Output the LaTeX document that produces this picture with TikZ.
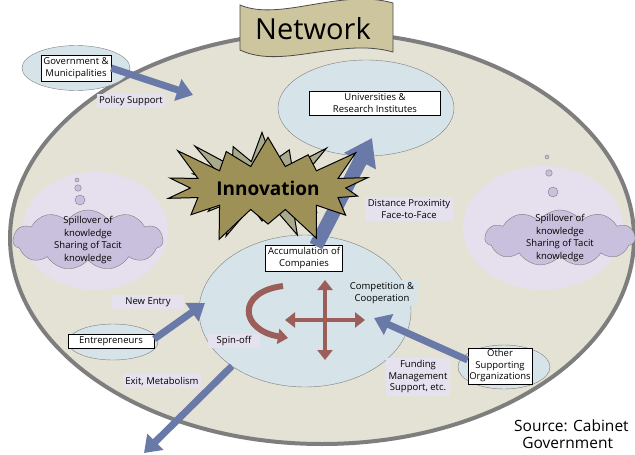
\documentclass[tikz,border=0pt]{standalone}
\usepackage{fontspec}
\setmainfont{Open Sans}
\usetikzlibrary{arrows.meta,shapes.symbols,shapes.geometric}
\definecolor{netfill}{HTML}{E4E2D5}
\definecolor{netline}{HTML}{7E7E7E}
\definecolor{paleblue}{HTML}{D6E4E9}
\definecolor{bubble}{HTML}{E5DFEE}
\definecolor{cloudfill}{HTML}{C9C0DD}
\definecolor{tagfill}{HTML}{E6E1EE}
\definecolor{arrowblue}{HTML}{6A7AA8}
\definecolor{olive}{HTML}{9D9158}
\definecolor{oliveshade}{HTML}{A9A98C}
\definecolor{rust}{HTML}{9C5E58}
\definecolor{flag}{HTML}{CCC59E}

\tikzset{
  tag/.style={fill=tagfill, font=\fontsize{9.5}{11.5}\selectfont, align=center, inner sep=2.5pt},
  whitebox/.style={draw=black, fill=white, font=\fontsize{9.5}{11.5}\selectfont, align=center, inner sep=2.5pt},
  blob/.style={ellipse, draw=netline, fill=paleblue},
  bigarrow/.style={draw=arrowblue, line width=7pt, -{Triangle[length=16pt,width=22pt]}},
  rustarrow/.style={draw=rust, line width=4.5pt, -{Triangle[length=10pt,width=15pt]}},
  puff/.style={cloud, cloud puffs=11, cloud puff arc=110, draw=netline, fill=cloudfill, inner sep=0pt},
  dot/.style={circle, draw=netline, fill=cloudfill, inner sep=0pt}
}

\begin{document}
\begin{tikzpicture}[x=1pt,y=-1pt]
\useasboundingbox (0,0) rectangle (635,455);
\clip (0,0) rectangle (635,455);

% network ring
\node[ellipse, draw=netline, line width=4pt, fill=netfill, minimum width=624pt, minimum height=412pt] (net) at (322,238) {};

% banner
\draw[fill=flag, draw=black!70, line width=0.8pt] (240,5) .. controls (280,22) and (340,-12) .. (393,3)
  -- (393,52) .. controls (340,37) and (282,70) .. (240,50) -- cycle;
\node[font=\fontsize{29}{32}\selectfont] (title) at (313,29) {Network};

% thought bubbles
\node[ellipse, fill=bubble, minimum width=146pt, minimum height=118pt] (lbub) at (95,231) {};
\node[puff, minimum width=150pt, minimum height=60pt] (lcloud) at (88,240) {};
\node[font=\fontsize{9.5}{12.5}\selectfont, align=center] (lcloudtext) at (lcloud.center) {Spillover of\\knowledge\\Sharing of Tacit\\knowledge};
\node[dot, minimum size=4pt] (ld1) at (77,180) {};
\node[dot, minimum size=6.5pt] (ld2) at (78,188) {};
\node[dot, minimum size=10pt] (ld3) at (80,200) {};

\node[ellipse, fill=bubble, minimum width=160pt, minimum height=124pt] (rbub) at (543,228) {};
\node[puff, minimum width=150pt, minimum height=56pt] (rcloud) at (560,238) {};
\node[font=\fontsize{9.5}{12.5}\selectfont, align=center] (rcloudtext) at (rcloud.center) {Spillover of\\knowledge\\Sharing of Tacit\\knowledge};
\node[dot, minimum size=4pt] (rd1) at (547,157) {};
\node[dot, minimum size=6.5pt] (rd2) at (549,173) {};
\node[dot, minimum size=10pt] (rd3) at (553,192) {};

% actors
\node[blob, minimum width=176pt, minimum height=96pt] (uni) at (366,108) {};
\node[whitebox, minimum width=131pt] (unibox) at (375,103) {Universities \&\\Research Institutes};

\node[blob, minimum width=212pt, minimum height=152pt] (acc) at (305,311) {};
\node[whitebox] (accbox) at (304,258) {Accumulation of\\Companies};

\node[blob, minimum width=108pt, minimum height=45pt] (gov) at (76,68) {};
\node[whitebox] (govbox) at (76,68) {Government \&\\Municipalities};

\node[blob, minimum width=90pt, minimum height=36pt] (ent) at (113,342) {};
\node[whitebox, minimum width=86pt] (entbox) at (111,341) {Entrepreneurs};

\node[blob, minimum width=92pt, minimum height=44pt] (oth) at (504,367) {};
\node[whitebox, inner sep=1.5pt] (othbox) at (500,366) {Other\\Supporting\\Organizations};

% flows
\coordinate (unibase) at (316,246);
\coordinate (unitip) at (372,138);
\coordinate (polend) at (193,95);
\coordinate (entend) at (205,303);
\coordinate (exitend) at (144,453);
\coordinate (exitstart) at (232,366);
\coordinate (othend) at (374,318);
\draw[draw=arrowblue, line width=14pt, -{Triangle[length=26pt,width=34pt]}] (unibase) -- (unitip);
\draw[bigarrow] (govbox.east) -- (polend);
\draw[bigarrow] (ent.east) ++(-4,-3) -- (entend);
\draw[bigarrow] (exitstart) -- (exitend);
\draw[bigarrow] (othbox.west) ++(0,-6) -- (othend);

% innovation burst
\node[starburst, starburst points=14, starburst point height=40pt, fill=oliveshade, draw=black, line width=1pt,
  minimum width=176pt, minimum height=126pt] (shade) at (262,184) {};
\node[starburst, starburst points=14, starburst point height=40pt, fill=olive, draw=black, line width=1pt,
  minimum width=172pt, minimum height=124pt, font=\bfseries\fontsize{19}{22}\selectfont] (burst) at (268,188) {Innovation};

% inner arrows
\coordinate (cross) at (325,320);
\draw[rustarrow] (cross) -- ++(40,0);
\draw[rustarrow] (cross) -- ++(-40,0);
\draw[rustarrow] (cross) -- ++(0,40);
\draw[rustarrow] (cross) -- ++(0,-40);
\coordinate (curtop) at (283,286);
\coordinate (curend) at (288,338);
\draw[rustarrow, line width=6pt] (curtop) .. controls (236,292) and (240,330) .. (curend);

% tags
\node[tag] (poltag) at (131,101) {Policy Support};
\node[tag, inner sep=3pt] (disttag) at (409,209) {Distance Proximity\\Face-to-Face};
\node[tag, fill=paleblue] (comptag) at (382,293) {Competition \&\\Cooperation};
\node[tag, minimum width=52pt] (spintag) at (234,341) {Spin-off};
\node[tag, minimum width=72pt] (newtag) at (148,302) {New Entry};
\node[tag] (exittag) at (162,381) {Exit, Metabolism};
\node[tag] (fundtag) at (418,377) {Funding\\Management\\Support, etc.};

% source
\node[anchor=north west, font=\fontsize{15.5}{17}\selectfont, align=left, inner sep=0pt] (src) at (514,420) {Source: Cabinet\\\ \ Government};
\end{tikzpicture}
\end{document}
